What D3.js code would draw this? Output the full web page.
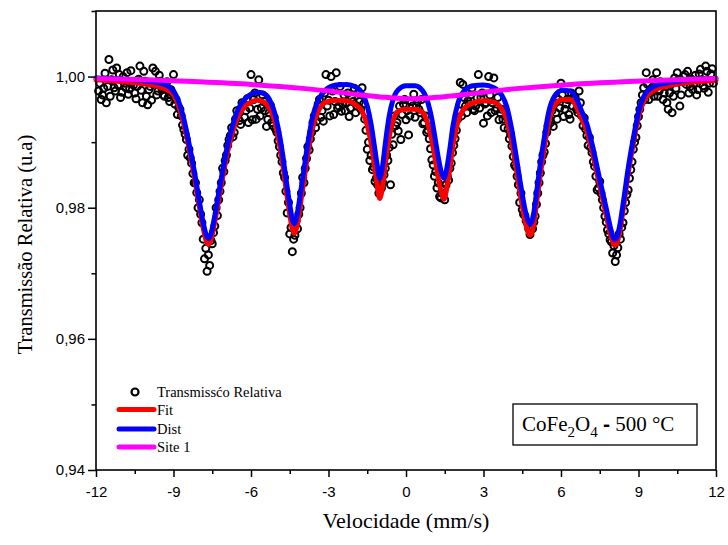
<!DOCTYPE html>
<html><head><meta charset="utf-8">
<script src="https://cdn.jsdelivr.net/npm/d3@7"></script>
<style>body{margin:0;background:#fff}svg{display:block}</style>
</head><body><svg id="c" width="728" height="545"></svg>
<script>
// ---------- DATA ----------
// channels of the first half of the folded spectrum
const velocity = [
-11.9,-11.8,-11.7,-11.6,-11.5,-11.4,-11.3,-11.2,-11.1,-11.0,
-10.9,-10.8,-10.7,-10.6,-10.5,-10.4,-10.3,-10.2,-10.1,-10.0,
-9.9,-9.8,-9.7,-9.6,-9.5,-9.4,-9.3,-9.2,-9.1,-9.0,
-8.9,-8.8,-8.7,-8.6,-8.5,-8.4,-8.3,-8.2,-8.1,-8.0,
-7.9,-7.8,-7.7,-7.6,-7.5,-7.4,-7.3,-7.2,-7.1,-7.0,
-6.9,-6.8,-6.7,-6.6,-6.5,-6.4,-6.3,-6.2,-6.1,-6.0,
-5.9,-5.8,-5.7,-5.6,-5.5,-5.4,-5.3,-5.2,-5.1,-5.0,
-4.9,-4.8,-4.7,-4.6,-4.5,-4.4,-4.3,-4.2,-4.1,-4.0,
-3.9,-3.8,-3.7,-3.6,-3.5,-3.4,-3.3,-3.2,-3.1,-3.0,
-2.9,-2.8,-2.7,-2.6,-2.5,-2.4,-2.3,-2.2,-2.1,-2.0,
-1.9,-1.8,-1.7,-1.6,-1.5,-1.4,-1.3,-1.2,-1.1,-1.0,
-0.9,-0.8,-0.7,-0.6,-0.5,-0.4,-0.3,-0.2,-0.1,0.0,
0.1,0.2,0.3,0.4,0.5,0.6,0.7,0.8,0.9,1.0,
1.1,1.2,1.3,1.4,1.5,1.6,1.7,1.8,1.9,2.0,
2.1,2.2,2.3,2.4,2.5,2.6,2.7,2.8,2.9,3.0,
3.1,3.2,3.3,3.4,3.5,3.6,3.7,3.8,3.9,4.0,
4.1,4.2,4.3,4.4,4.5,4.6,4.7,4.8,4.9,5.0,
5.1,5.2,5.3,5.4,5.5,5.6,5.7,5.8,5.9,6.0,
6.1,6.2,6.3,6.4,6.5,6.6,6.7,6.8,6.9,7.0,
7.1,7.2,7.3,7.4,7.5,7.6,7.7,7.8,7.9,8.0,
8.1,8.2,8.3,8.4,8.5,8.6,8.7,8.8,8.9,9.0,
9.1,9.2,9.3,9.4,9.5,9.6,9.7,9.8,9.9,10.0,
10.1,10.2,10.3,10.4,10.5,10.6,10.7,10.8,10.9,11.0,
11.1,11.2,11.3,11.4,11.5,11.6,11.7,11.8,11.9];
const transmission = [
0.9978,0.9965,0.9982,0.9960,1.0026,0.9995,0.9983,1.0013,1.0003,0.9976,
0.9990,1.0006,0.9981,0.9992,0.9975,0.9985,1.0016,0.9960,0.9993,0.9957,
0.9985,1.0013,1.0008,0.9978,0.9993,0.9972,0.9986,0.9968,0.9980,1.0003,
0.9965,0.9953,0.9940,0.9919,0.9904,0.9889,0.9868,0.9838,0.9823,0.9812,
0.9777,0.9722,0.9703,0.9712,0.9745,0.9772,0.9788,0.9825,0.9860,0.9872,
0.9895,0.9910,0.9908,0.9935,0.9942,0.9927,0.9956,0.9948,0.9930,1.0003,
0.9965,0.9935,0.9995,0.9952,0.9962,0.9924,0.9945,0.9930,0.9938,0.9915,
0.9893,0.9870,0.9846,0.9792,0.9760,0.9733,0.9758,0.9768,0.9800,0.9846,
0.9860,0.9893,0.9905,0.9930,0.9922,0.9958,0.9938,0.9932,1.0003,0.9964,
1.0000,0.9942,1.0006,0.9955,0.9947,0.9972,0.9960,0.9939,0.9968,0.9982,
0.9955,0.9962,0.9983,0.9935,0.9889,0.9872,0.9858,0.9840,0.9835,0.9828,
0.9838,0.9860,0.9872,0.9835,0.9896,0.9925,0.9917,0.9904,0.9958,0.9934,
0.9911,0.9962,0.9973,0.9955,0.9950,0.9965,0.9930,0.9915,0.9905,0.9873,
0.9848,0.9830,0.9817,0.9822,0.9812,0.9848,0.9860,0.9884,0.9905,0.9935,
0.9991,0.9988,0.9955,0.9963,0.9972,0.9950,0.9955,1.0003,0.9968,0.9929,
0.9960,1.0000,0.9945,0.9998,0.9952,0.9934,0.9950,0.9922,0.9938,0.9905,
0.9894,0.9865,0.9848,0.9808,0.9797,0.9788,0.9777,0.9759,0.9768,0.9787,
0.9822,0.9853,0.9880,0.9898,0.9925,0.9930,0.9924,0.9945,0.9965,0.9990,
0.9939,0.9958,0.9942,0.9975,0.9970,0.9950,0.9978,0.9940,0.9937,0.9910,
0.9907,0.9884,0.9863,0.9827,0.9840,0.9812,0.9787,0.9766,0.9751,0.9731,
0.9718,0.9739,0.9752,0.9777,0.9808,0.9827,0.9858,0.9889,0.9907,0.9939,
0.9960,0.9983,1.0006,0.9965,0.9982,0.9970,1.0006,0.9978,0.9988,0.9975,
0.9960,0.9975,0.9945,0.9998,1.0006,0.9955,0.9992,1.0003,1.0008,0.9985,
0.9980,1.0002,0.9980,1.0011,0.9986,1.0016,0.9976,1.0004,0.9990];
// channels of the second half of the folded spectrum
const velocityB = [
-11.85,-11.75,-11.65,-11.55,-11.45,-11.35,-11.25,-11.15,-11.05,-10.95,
-10.85,-10.75,-10.65,-10.55,-10.45,-10.35,-10.25,-10.15,-10.05,-9.95,
-9.85,-9.75,-9.65,-9.55,-9.45,-9.35,-9.25,-9.15,-9.05,-8.95,
-8.85,-8.75,-8.65,-8.55,-8.45,-8.35,-8.25,-8.15,-8.05,-7.95,
-7.85,-7.75,-7.65,-7.55,-7.45,-7.35,-7.25,-7.15,-7.05,-6.95,
-6.85,-6.75,-6.65,-6.55,-6.45,-6.35,-6.25,-6.15,-6.05,-5.95,
-5.85,-5.75,-5.65,-5.55,-5.45,-5.35,-5.25,-5.15,-5.05,-4.95,
-4.85,-4.75,-4.65,-4.55,-4.45,-4.35,-4.25,-4.15,-4.05,-3.95,
-3.85,-3.75,-3.65,-3.55,-3.45,-3.35,-3.25,-3.15,-3.05,-2.95,
-2.85,-2.75,-2.65,-2.55,-2.45,-2.35,-2.25,-2.15,-2.05,-1.95,
-1.85,-1.75,-1.65,-1.55,-1.45,-1.35,-1.25,-1.15,-1.05,-0.95,
-0.85,-0.75,-0.65,-0.55,-0.45,-0.35,-0.25,-0.15,-0.05,0.05,
0.15,0.25,0.35,0.45,0.55,0.65,0.75,0.85,0.95,1.05,
1.15,1.25,1.35,1.45,1.55,1.65,1.75,1.85,1.95,2.05,
2.15,2.25,2.35,2.45,2.55,2.65,2.75,2.85,2.95,3.05,
3.15,3.25,3.35,3.45,3.55,3.65,3.75,3.85,3.95,4.05,
4.15,4.25,4.35,4.45,4.55,4.65,4.75,4.85,4.95,5.05,
5.15,5.25,5.35,5.45,5.55,5.65,5.75,5.85,5.95,6.05,
6.15,6.25,6.35,6.45,6.55,6.65,6.75,6.85,6.95,7.05,
7.15,7.25,7.35,7.45,7.55,7.65,7.75,7.85,7.95,8.05,
8.15,8.25,8.35,8.45,8.55,8.65,8.75,8.85,8.95,9.05,
9.15,9.25,9.35,9.45,9.55,9.65,9.75,9.85,9.95,10.05,
10.15,10.25,10.35,10.45,10.55,10.65,10.75,10.85,10.95,11.05,
11.15,11.25,11.35,11.45,11.55,11.65,11.75,11.85];
const transmissionB = [
0.9990,0.9972,1.0005,0.9985,0.9970,1.0010,0.9978,0.9987,0.9968,1.0000,
0.9983,0.9973,1.0009,0.9987,0.9966,0.9996,0.9979,1.0008,0.9970,0.9980,
0.9964,0.9990,0.9972,1.0002,0.9982,0.9970,0.9992,0.9962,0.9975,0.9958,
0.9942,0.9950,0.9926,0.9912,0.9880,0.9876,0.9852,0.9838,0.9800,0.9790,
0.9752,0.9738,0.9728,0.9750,0.9762,0.9800,0.9812,0.9838,0.9855,0.9880,
0.9904,0.9922,0.9915,0.9948,0.9933,0.9960,0.9938,0.9966,0.9952,0.9934,
0.9975,0.9950,0.9940,0.9972,0.9948,0.9935,0.9956,0.9925,0.9920,0.9902,
0.9880,0.9853,0.9825,0.9808,0.9770,0.9752,0.9780,0.9790,0.9822,0.9838,
0.9875,0.9888,0.9915,0.9940,0.9932,0.9965,0.9948,0.9975,0.9955,0.9940,
0.9978,0.9962,0.9952,0.9985,0.9958,0.9948,0.9975,0.9952,0.9962,0.9945,
0.9975,0.9950,0.9958,0.9918,0.9900,0.9880,0.9862,0.9845,0.9822,0.9830,
0.9850,0.9880,0.9892,0.9912,0.9940,0.9930,0.9955,0.9942,0.9965,0.9948,
0.9940,0.9955,0.9938,0.9962,0.9945,0.9928,0.9940,0.9918,0.9890,0.9865,
0.9855,0.9838,0.9815,0.9828,0.9835,0.9842,0.9868,0.9895,0.9918,0.9948,
0.9940,0.9968,0.9945,0.9958,0.9982,0.9948,0.9968,0.9952,0.9975,0.9958,
0.9940,0.9972,0.9960,0.9948,0.9968,0.9945,0.9935,0.9948,0.9920,0.9912,
0.9878,0.9862,0.9835,0.9822,0.9790,0.9780,0.9768,0.9772,0.9778,0.9805,
0.9838,0.9870,0.9885,0.9915,0.9935,0.9948,0.9960,0.9935,0.9952,0.9972,
0.9950,0.9965,0.9935,0.9955,0.9968,0.9945,0.9960,0.9925,0.9920,0.9895,
0.9892,0.9870,0.9848,0.9830,0.9822,0.9800,0.9778,0.9760,0.9748,0.9742,
0.9728,0.9760,0.9770,0.9795,0.9820,0.9845,0.9870,0.9900,0.9925,0.9950,
0.9972,0.9965,0.9988,0.9975,0.9995,0.9983,0.9970,0.9992,0.9965,0.9985,
0.9950,0.9988,0.9970,0.9982,0.9995,0.9972,1.0000,0.9988,0.9975,0.9996,
0.9990,0.9972,1.0004,0.9995,0.9982,1.0008,0.9990,1.0012];

// fitted curves (sampled)
const curveVelocity = [
-12,-11,-10,-9.5,-9.2,-9.0,-8.8,-8.6,-8.4,-8.2,
-8.0,-7.85,-7.72,-7.64,-7.55,-7.42,-7.28,-7.1,-6.92,-6.7,
-6.5,-6.25,-6.0,-5.75,-5.5,-5.3,-5.1,-4.95,-4.8,-4.65,
-4.5,-4.4,-4.32,-4.22,-4.1,-3.95,-3.8,-3.62,-3.4,-3.1,
-2.7,-2.3,-1.95,-1.7,-1.5,-1.35,-1.22,-1.12,-1.02,-0.92,
-0.8,-0.65,-0.5,-0.3,0.0,0.35,0.65,0.85,1.0,1.15,
1.28,1.38,1.47,1.56,1.68,1.82,2.0,2.25,2.6,3.0,
3.4,3.7,3.9,4.08,4.28,4.45,4.62,4.74,4.82,4.92,
5.05,5.2,5.35,5.52,5.75,6.05,6.35,6.6,6.8,7.0,
7.25,7.5,7.75,7.95,8.06,8.14,8.26,8.42,8.6,8.8,
9.0,9.25,9.6,10.2,11,12];
const fitValues = [
0.9995,0.9992,0.9988,0.9984,0.9979,0.9972,0.9955,0.9928,0.9891,0.9849,
0.9802,0.9769,0.9748,0.9744,0.9751,0.9775,0.9805,0.9846,0.9883,0.9917,
0.9939,0.9954,0.9961,0.9964,0.9961,0.9953,0.9934,0.9908,0.9874,0.9831,
0.9790,0.9767,0.9761,0.9772,0.9802,0.9842,0.9882,0.9921,0.9947,0.9961,
0.9964,0.9963,0.9957,0.9947,0.9926,0.9898,0.9863,0.9836,0.9814,0.9829,
0.9867,0.9908,0.9933,0.9947,0.9950,0.9950,0.9945,0.9927,0.9903,0.9869,
0.9839,0.9821,0.9813,0.9826,0.9855,0.9896,0.9930,0.9951,0.9960,0.9963,
0.9961,0.9951,0.9934,0.9903,0.9857,0.9814,0.9778,0.9761,0.9758,0.9769,
0.9806,0.9851,0.9891,0.9930,0.9956,0.9965,0.9965,0.9954,0.9935,0.9917,
0.9878,0.9833,0.9789,0.9754,0.9743,0.9744,0.9761,0.9801,0.9852,0.9898,
0.9939,0.9966,0.9979,0.9986,0.9991,0.9994];
const distValues = [
0.9998,0.9996,0.9993,0.9990,0.9985,0.9978,0.9962,0.9935,0.9898,0.9857,
0.9810,0.9777,0.9757,0.9753,0.9760,0.9784,0.9815,0.9856,0.9893,0.9927,
0.9950,0.9965,0.9973,0.9976,0.9974,0.9966,0.9947,0.9922,0.9888,0.9845,
0.9805,0.9782,0.9776,0.9788,0.9818,0.9858,0.9898,0.9938,0.9964,0.9980,
0.9987,0.9988,0.9984,0.9975,0.9955,0.9927,0.9893,0.9866,0.9845,0.9860,
0.9898,0.9940,0.9965,0.9980,0.9986,0.9986,0.9978,0.9960,0.9935,0.9900,
0.9870,0.9852,0.9845,0.9856,0.9885,0.9925,0.9958,0.9978,0.9986,0.9987,
0.9983,0.9972,0.9954,0.9922,0.9875,0.9832,0.9795,0.9779,0.9775,0.9786,
0.9822,0.9867,0.9906,0.9945,0.9970,0.9979,0.9978,0.9966,0.9947,0.9928,
0.9889,0.9843,0.9799,0.9764,0.9752,0.9753,0.9770,0.9810,0.9860,0.9906,
0.9946,0.9973,0.9985,0.9991,0.9995,0.9997];
const siteVelocity = [-12,-10,-8,-6,-4,-3,-2,-1,0.2,1.4,2.4,3.4,4.4,6.4,8.4,10.4,12];
const siteValues = [0.9997,0.9995,0.9992,0.9988,0.9982,0.9978,0.9973,0.9969,0.9966,0.9969,0.9973,0.9978,0.9982,0.9988,0.9992,0.9995,0.9997];

const xTickValues = [-12,-9,-6,-3,0,3,6,9,12];
const xMinorTicks = [-10.5,-7.5,-4.5,-1.5,1.5,4.5,7.5,10.5];
const yTickValues = [0.94,0.96,0.98,1.00];
const yTickLabels = ["0,94","0,96","0,98","1,00"];
const yMinorTicks = [0.95,0.97,0.99,1.01];
const legendLabels = ["Transmissćo Relativa","Fit","Dist","Site 1"];
const seriesColors = {fit:"#ff0000", dist:"#0000ff", site:"#ff00ff"};

// ---------- CHART ----------
const svg = d3.select("#c");
const x = d3.scaleLinear().domain([-12,12]).range([96,716]);
const y = d3.scaleLinear().domain([0.94,1.01]).range([470,11]);
const SANS = "'Liberation Sans', Arial, sans-serif";
const SERIF = "'Liberation Serif', 'Times New Roman', serif";

// data points
const pts = velocity.map((v,i)=>({v, t:transmission[i]}))
  .concat(velocityB.map((v,i)=>({v, t:transmissionB[i]})));
svg.append("g").selectAll("circle").data(pts).join("circle")
  .attr("cx",d=>x(d.v)).attr("cy",d=>y(d.t)).attr("r",3.5)
  .attr("fill","none").attr("stroke","#000").attr("stroke-width",2);

const line = d3.line().x(d=>x(d[0])).y(d=>y(d[1])).curve(d3.curveMonotoneX);
const fitPts = curveVelocity.map((v,i)=>[v,fitValues[i]]);
const distPts = curveVelocity.map((v,i)=>[v,distValues[i]]);
const sitePts = siteVelocity.map((v,i)=>[v,siteValues[i]]);
[[fitPts,seriesColors.fit],[distPts,seriesColors.dist],[sitePts,seriesColors.site]].forEach(([p,c])=>{
  svg.append("path").attr("d",line(p)).attr("fill","none").attr("stroke",c)
    .attr("stroke-width",5).attr("stroke-linejoin","round").attr("stroke-linecap","round");
});

// frame
svg.append("rect").attr("x",x(-12)).attr("y",y(1.01)).attr("width",x(12)-x(-12)).attr("height",y(0.94)-y(1.01))
  .attr("fill","none").attr("stroke","#000").attr("stroke-width",1.6);

// axes
const gx = svg.append("g").attr("transform",`translate(0,${y(0.94)})`)
  .call(d3.axisBottom(x).tickValues(xTickValues).tickSize(7).tickPadding(9).tickFormat(d=>String(d)));
const gxm = svg.append("g").attr("transform",`translate(0,${y(0.94)})`)
  .call(d3.axisBottom(x).tickValues(xMinorTicks).tickSize(4).tickFormat(""));
const gy = svg.append("g").attr("transform",`translate(${x(-12)},0)`)
  .call(d3.axisLeft(y).tickValues(yTickValues).tickSize(8).tickPadding(3).tickFormat((d,i)=>yTickLabels[i]));
const gym = svg.append("g").attr("transform",`translate(${x(-12)},0)`)
  .call(d3.axisLeft(y).tickValues(yMinorTicks).tickSize(4.5).tickFormat(""));
[gx,gxm,gy,gym].forEach(g=>{
  g.select(".domain").remove();
  g.selectAll(".tick line").attr("stroke","#000").attr("stroke-width",1.5);
  g.selectAll("text").attr("font-family",SANS).attr("font-size",15).attr("fill","#000");
});

// axis titles
svg.append("text").attr("x",(x(-12)+x(12))/2).attr("y",528).attr("text-anchor","middle")
  .attr("font-family",SERIF).attr("font-size",22).text("Velocidade (mm/s)");
svg.append("text").attr("transform",`translate(32,${(y(0.94)+y(1.01))/2 + 4}) rotate(-90)`).attr("text-anchor","middle")
  .attr("font-family",SERIF).attr("font-size",20.5).text("Transmissão Relativa (u.a)");

// legend
const lg = svg.append("g");
lg.append("circle").attr("cx",135).attr("cy",392).attr("r",3.5).attr("fill","none").attr("stroke","#000").attr("stroke-width",2.2);
lg.append("text").attr("x",157).attr("y",397).attr("font-family",SERIF).attr("font-size",14.5).text(legendLabels[0]);
[[seriesColors.fit,409.5,legendLabels[1]],[seriesColors.dist,429,legendLabels[2]],[seriesColors.site,447,legendLabels[3]]].forEach(([c,yy,t])=>{
  lg.append("line").attr("x1",119).attr("x2",154).attr("y1",yy).attr("y2",yy).attr("stroke",c).attr("stroke-width",5).attr("stroke-linecap","round");
  lg.append("text").attr("x",157).attr("y",yy+5).attr("font-family",SERIF).attr("font-size",14.5).text(t);
});

// annotation box
svg.append("rect").attr("x",513).attr("y",404).attr("width",184).attr("height",41)
  .attr("fill","#fff").attr("stroke","#000").attr("stroke-width",1.3);
const an = svg.append("text").attr("x",522).attr("y",431).attr("font-family",SERIF).attr("font-size",21);
an.append("tspan").text("CoFe");
an.append("tspan").attr("dy",6).attr("font-size",15).text("2");
an.append("tspan").attr("dy",-6).text("O");
an.append("tspan").attr("dy",6).attr("font-size",15).text("4");
an.append("tspan").attr("dy",-6).text("  ");
an.append("tspan").attr("font-family",SANS).attr("font-weight","bold").text("-");
an.append("tspan").text("  500 °C");
</script></body></html>
